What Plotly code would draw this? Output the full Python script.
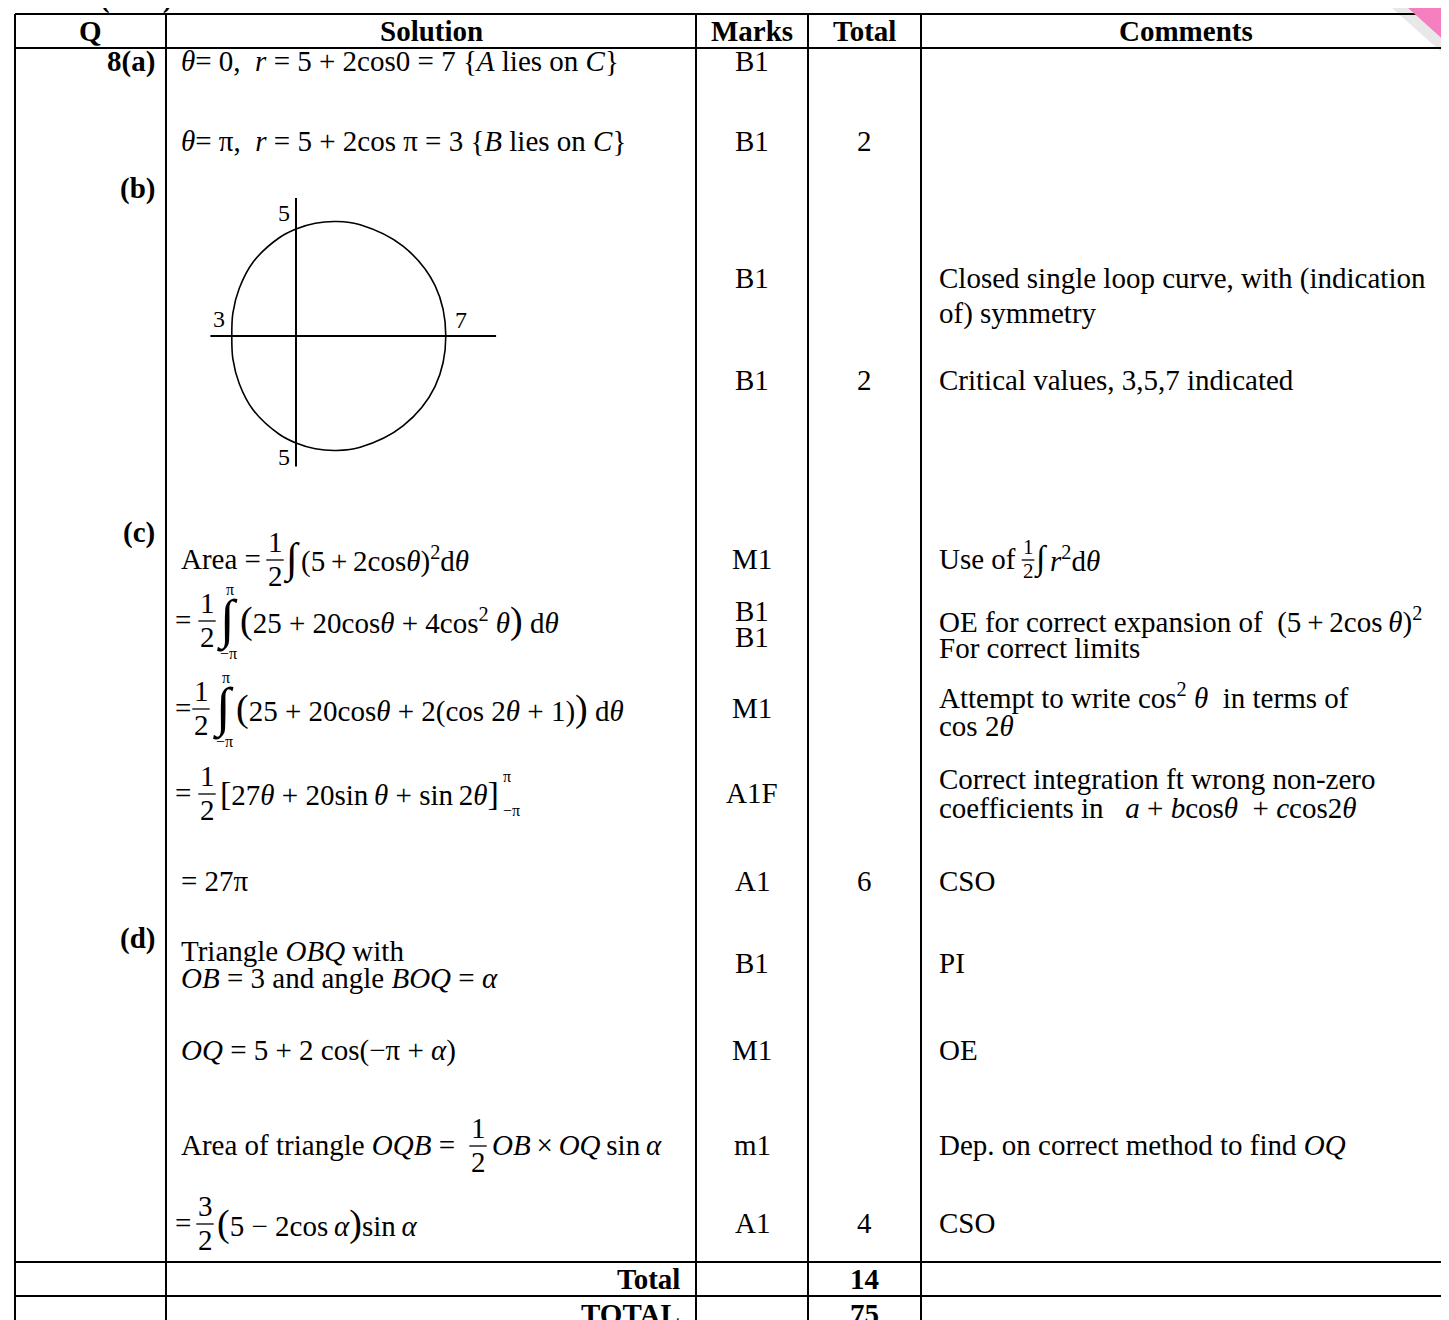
import plotly.graph_objects as go

# Mark scheme content
headers = ['Q', 'Solution', 'Marks', 'Total', 'Comments']
parts = ['8(a)', '(b)', '(c)', '(d)']
marks = ['B1', 'B1', 'B1', 'B1', 'M1', 'B1', 'B1', 'M1', 'A1F', 'A1', 'B1', 'M1', 'm1', 'A1']
part_totals = ['2', '2', '6', '4']
grand_labels = ['Total', 'TOTAL']
grand_values = ['14', '75']

# sketch of the curve C (r = 5 + 2cos theta)
curve_x = [7.0, 6.5, 5.0, 3.0, 1.9, 0.9, 0.0, -0.8, -2.0, -2.65, -2.95, -3.0,
           -2.95, -2.65, -2.0, -0.8, 0.0, 0.9, 1.9, 3.0, 5.0, 6.5, 7.0]
curve_y = [0.0, 2.35, 4.2, 5.2, 5.35, 5.27, 5.0, 4.58, 3.46, 2.23, 1.07, 0.0,
           -1.07, -2.23, -3.46, -4.58, -5.0, -5.27, -5.35, -5.2, -4.2, -2.35, 0.0]
axis_h = [-4.0, 9.35]
axis_v = [6.45, -6.1]
sketch_labels = ['5', '3', '7', '5']

FONT = 'Liberation Serif'
FS = 29

fig = go.Figure()


def txt(x, y, s, size=FS, anchor='left', bold=False):
    if bold:
        s = '<b>' + s + '</b>'
    fig.add_annotation(x=x, y=y, xref='x', yref='y', text=s, showarrow=False,
                       xanchor=anchor, yanchor='middle', borderpad=0,
                       font=dict(family=FONT, size=size, color='black'))


def hline(x0, x1, y, w=2):
    fig.add_shape(type='line', x0=x0, x1=x1, y0=y, y1=y, xref='x', yref='y',
                  line=dict(color='black', width=w))


def vline(x, y0, y1, w=2):
    fig.add_shape(type='line', x0=x, x1=x, y0=y0, y1=y1, xref='x', yref='y',
                  line=dict(color='black', width=w))


def frac(x, y, num, den, size=FS):
    d = size * 0.58
    txt(x, y - d, num, size, 'center')
    txt(x, y + d, den, size, 'center')
    hline(x - size * 0.3, x + size * 0.3, y + 1, 1.3)


def integral(x, y, size=44, lo=None, hi=None):
    txt(x, y, '∫', size, 'center')
    if hi:
        txt(x + 3, y - 31, hi, 16, 'center')
    if lo:
        txt(x + 1, y + 33, lo, 16, 'center')


def big(ch, size=38):
    return '<span style="font-size:%dpx">%s</span>' % (size, ch)


# table grid
cols = [7, 158, 688, 800, 913, 1443]
top, head_bot, tot_top, grand_top = 6, 40, 1254, 1288
for cx in cols[:-1]:
    vline(cx, top, 1320)
vline(cols[-1], head_bot, 1320)
hline(cols[0], 1415, top)
for ry in [head_bot, tot_top, grand_top]:
    hline(cols[0], cols[-1], ry)

# header
head_x = [(cols[i] + cols[i + 1]) / 2 for i in range(5)]
for hx, h in zip(head_x, headers):
    txt(hx, 23, h, anchor='center', bold=True)
fig.add_annotation(x=128 / 1449, y=1 + 11 / 1320, xref='paper', yref='paper', text='<b>(cont)</b>',
                   showarrow=False, xanchor='center', yanchor='middle',
                   font=dict(family=FONT, size=FS, color='black'))

# question parts
for py, p in zip([53, 180, 524, 930], parts):
    txt(148, py, p, anchor='right', bold=True)

# marks and totals
for my, m in zip([53, 133, 270, 372, 551, 603, 629, 700, 785, 873, 955, 1042, 1137, 1215], marks):
    txt(head_x[2], my, m, anchor='center')
for ty, t in zip([133, 372, 873, 1215], part_totals):
    txt(head_x[3], ty, t, anchor='center')
for gy, lab, val in zip([1271, 1306], grand_labels, grand_values):
    txt(673, gy, lab, anchor='right', bold=True)
    txt(head_x[3], gy, val, anchor='center', bold=True)

SX = 172
th = '<i>θ</i>'
al = '<i>α</i>'
# (a)
txt(SX, 53, th + '= 0,\u00a0 <i>r</i> = 5 + 2cos0 = 7 {<i>A</i> lies on <i>C</i>}')
txt(SX, 133, th + '= π,\u00a0 <i>r</i> = 5 + 2cos π = 3 {<i>B</i> lies on <i>C</i>}')

# (c)
txt(SX, 551, 'Area =')
frac(267, 551, '1', '2')
integral(283, 551, 42)
txt(292, 551, '(5\u2009+\u20092cos' + th + ')<sup>2</sup>d' + th)

txt(166, 612, '=')
frac(199, 612, '1', '2')
integral(219, 612, 54, '−π', 'π')
txt(231, 612, big('(') + '25 + 20cos' + th + ' + 4cos<sup>2</sup> ' + th + big(')') + ' d' + th)

txt(166, 700, '=')
frac(193, 700, '1', '2')
integral(215, 700, 54, '−π', 'π')
txt(227, 700, big('(') + '25 + 20cos' + th + ' + 2(cos 2' + th + ' + 1)' + big(')') + ' d' + th)

txt(166, 785, '=')
frac(199, 785, '1', '2')
txt(211, 785, big('[', 34) + '27' + th + ' + 20sin\u2009' + th + ' + sin\u20092' + th + big(']', 34))
txt(494, 768, 'π', 16)
txt(494, 802, '−π', 16)
txt(SX, 873, '= 27π')

# (d)
txt(SX, 943, 'Triangle <i>OBQ</i> with')
txt(SX, 970, '<i>OB</i> = 3 and angle <i>BOQ</i> = ' + al)
txt(SX, 1042, '<i>OQ</i> = 5 + 2 cos(−π + ' + al + ')')
txt(SX, 1137, 'Area of triangle <i>OQB</i> =')
frac(470, 1137, '1', '2')
txt(483, 1137, '<i>OB</i>\u2009×\u2009<i>OQ</i>\u2009sin\u2009' + al)
txt(166, 1215, '=')
frac(197, 1215, '3', '2')
txt(208, 1215, big('(') + '5 − 2cos\u2009' + al + big(')') + 'sin\u2009' + al)

# comments
CX = 930
txt(CX, 270, 'Closed single loop curve, with (indication')
txt(CX, 305, 'of) symmetry')
txt(CX, 372, 'Critical values, 3,5,7 indicated')
txt(CX, 551, 'Use of')
frac(1020, 551, '1', '2', 21)
integral(1033, 551, 34)
txt(1041, 551, '<i>r</i><sup>2</sup>d' + th)
txt(CX, 612, 'OE for correct expansion of\u00a0 (5\u2009+\u20092cos\u2009' + th + ')<sup>2</sup>')
txt(CX, 640, 'For correct limits')
txt(CX, 688, 'Attempt to write cos<sup>2</sup> ' + th + '\u00a0 in terms of')
txt(CX, 718, 'cos 2' + th)
txt(CX, 771, 'Correct integration ft wrong non-zero')
txt(CX, 800, 'coefficients in\u00a0\u00a0 <i>a</i>\u00a0+\u00a0<i>b</i>cos' + th + '\u00a0\u00a0+\u00a0<i>c</i>cos2' + th)
txt(CX, 873, 'CSO')
txt(CX, 955, 'PI')
txt(CX, 1042, 'OE')
txt(CX, 1137, 'Dep. on correct method to find <i>OQ</i>')
txt(CX, 1215, 'CSO')

# sketch
fig.add_trace(go.Scatter(x=axis_h, y=[0, 0], mode='lines', xaxis='x2', yaxis='y2',
                         line=dict(color='black', width=2), hoverinfo='skip'))
fig.add_trace(go.Scatter(x=[0, 0], y=axis_v, mode='lines', xaxis='x2', yaxis='y2',
                         line=dict(color='black', width=2), hoverinfo='skip'))
fig.add_trace(go.Scatter(x=curve_x, y=curve_y, mode='lines', xaxis='x2', yaxis='y2',
                         line=dict(color='black', width=1.6, shape='spline', smoothing=1),
                         hoverinfo='skip'))
for (lx, ly), lab in zip([(-0.55, 5.75), (-3.6, 0.8), (7.7, 0.75), (-0.55, -5.65)], sketch_labels):
    fig.add_annotation(x=lx, y=ly, xref='x2', yref='y2', text=lab, showarrow=False,
                       font=dict(family=FONT, size=24, color='black'))

# pink corner ribbon
fig.add_shape(type='path', path='M 1384 0 L 1400 0 L 1449 44 L 1449 58 Z', xref='x', yref='y',
              fillcolor='rgba(0,0,0,0.09)', line=dict(width=0))
fig.add_shape(type='path', path='M 1400 0 L 1449 0 L 1449 44 Z', xref='x', yref='y',
              fillcolor='#f57fbf', line=dict(width=0))
fig.add_annotation(x=1439, y=6, xref='x', yref='y', text='<b>i</b>', showarrow=False,
                   textangle=-45, font=dict(family=FONT, size=17, color='black'))

x0p, x1p, y0p, y1p = 180, 510, 180, 470
ox, oy, scale = 288, 328, 21.4
fig.update_layout(
    width=1449, height=1320,
    margin=dict(l=0, r=0, t=0, b=0),
    paper_bgcolor='white', plot_bgcolor='rgba(0,0,0,0)',
    showlegend=False,
    xaxis=dict(range=[0, 1449], visible=False, domain=[0, 1]),
    yaxis=dict(range=[1320, 0], visible=False, domain=[0, 1]),
    xaxis2=dict(domain=[x0p / 1449, x1p / 1449], anchor='y2', visible=False,
                range=[(x0p - ox) / scale, (x1p - ox) / scale]),
    yaxis2=dict(domain=[1 - y1p / 1320, 1 - y0p / 1320], anchor='x2', visible=False,
                range=[(oy - y1p) / scale, (oy - y0p) / scale]),
)

fig.write_html('out.html')
